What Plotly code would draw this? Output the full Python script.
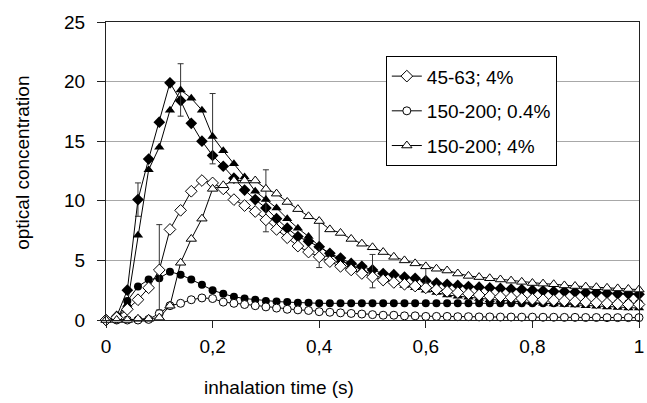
import plotly.graph_objects as go

# inhalation time (s), step 0.02
t = [round(0.02 * i, 2) for i in range(51)]

# hollow diamond: 45-63; 4%
hd = [0, 0.2, 0.9, 1.7, 2.7, 4.2, 7.6, 9.2, 10.8, 11.7, 11.5, 11.0, 10.1, 9.6, 9.1, 8.4,
      7.6, 6.9, 6.2, 5.7, 5.3, 4.9, 4.5, 4.2, 3.9, 3.6, 3.35, 3.15, 3.0, 2.85, 2.7,
      2.55, 2.4, 2.3, 2.2, 2.1, 2.0, 1.95, 1.9, 1.8, 1.75, 1.7, 1.65, 1.6, 1.55, 1.5,
      1.45, 1.4, 1.35, 1.3, 1.3]
# hollow circle: 150-200; 0.4%
hc = [0, 0, 0, 0, 0.05, 0.55, 1.2, 1.4, 1.7, 1.85, 1.8, 1.5, 1.4, 1.3, 1.2, 1.1,
      1.0, 0.9, 0.85, 0.8, 0.7, 0.65, 0.6, 0.55, 0.5, 0.45, 0.4, 0.4, 0.35, 0.35, 0.3,
      0.3, 0.3, 0.28, 0.28, 0.26, 0.26, 0.25, 0.25, 0.24, 0.24, 0.23, 0.23, 0.22, 0.22,
      0.21, 0.21, 0.2, 0.2, 0.2, 0.2]
# hollow triangle: 150-200; 4%
ht = [0, 0, 0, 0.1, 0.1, 0.2, 1.2, 4.8, 6.8, 8.5, 11.0, 11.3, 11.7, 11.7, 11.7, 11.0,
      10.6, 9.9, 9.3, 8.7, 8.3, 7.6, 7.3, 6.8, 6.4, 6.1, 5.7, 5.3, 5.0, 4.75, 4.5,
      4.3, 4.15, 3.9, 3.7, 3.6, 3.5, 3.4, 3.3, 3.2, 3.1, 3.05, 3.0, 2.9, 2.85, 2.8,
      2.75, 2.7, 2.65, 2.6, 2.55]
# filled diamond
fd = [0, 0.3, 2.5, 10.1, 13.5, 16.6, 19.9, 18.4, 16.5, 15.0, 13.8, 12.9, 11.9, 10.9, 10.1, 9.4,
      8.5, 7.7, 7.0, 6.6, 6.15, 5.6, 5.2, 4.75, 4.5, 4.2, 3.9, 3.8, 3.6, 3.5, 3.3,
      3.1, 3.0, 2.9, 2.8, 2.75, 2.7, 2.65, 2.6, 2.55, 2.5, 2.45, 2.4, 2.4, 2.35, 2.3,
      2.3, 2.25, 2.2, 2.2, 2.15]
# filled circle
fc = [0, 0.15, 1.6, 2.8, 3.4, 3.5, 4.05, 3.8, 3.4, 2.95, 2.5, 2.2, 1.95, 1.8, 1.7, 1.6,
      1.55, 1.5, 1.45, 1.45, 1.4, 1.4, 1.4, 1.4, 1.4, 1.4, 1.4, 1.4, 1.4, 1.4, 1.4,
      1.4, 1.4, 1.4, 1.4, 1.4, 1.4, 1.4, 1.4, 1.4, 1.4, 1.4, 1.4, 1.4, 1.4, 1.4,
      1.4, 1.4, 1.4, 1.4, 1.4]
# filled triangle
ft = [0, 0.1, 1.3, 7.1, 12.6, 14.5, 17.6, 19.3, 18.6, 17.6, 15.4, 14.2, 13.1, 12.0, 10.8, 10.1,
      9.4, 8.5, 7.7, 7.0, 6.2, 5.5, 5.0, 4.6, 4.2, 3.8, 3.5, 3.2, 2.9, 2.7, 2.5,
      2.3, 2.1, 2.0, 1.9, 1.8, 1.7, 1.65, 1.6, 1.5, 1.45, 1.4, 1.35, 1.3, 1.25, 1.2,
      1.15, 1.1, 1.05, 1.0, 1.0]

# error bars (plus / minus) at selected times
def sparse(d):
    return [d.get(i) for i in range(51)]

fd_err_p = sparse({3: 1.4})
fd_err_m = sparse({3: 1.4})
hd_err_p = sparse({5: 3.8})
hd_err_m = sparse({5: 3.35})
ft_err_p = sparse({7: 2.2, 10: 3.6, 15: 2.5, 20: 2.2, 25: 1.7})
ft_err_m = sparse({7: 2.2, 10: 2.3, 15: 2.7, 20: 1.8, 25: 1.1})
ht_err_p = sparse({30: 0.1})
ht_err_m = sparse({30: 1.4})

x_ticks = [0, 0.2, 0.4, 0.6, 0.8, 1]
x_tick_text = ["0", "0,2", "0,4", "0,6", "0,8", "1"]
y_ticks = [0, 5, 10, 15, 20, 25]

FONT = "Liberation Sans, Arial, sans-serif"
fig = go.Figure()

def err(p, m):
    return dict(type="data", array=p, arrayminus=m, symmetric=False,
                color="#333333", thickness=1, width=3, visible=True)

common = dict(x=t, mode="lines+markers", line=dict(color="black", width=1), cliponaxis=False)

fig.add_trace(go.Scatter(y=fc, name="fc", showlegend=False,
                         marker=dict(symbol="circle", size=8, color="black"), **common))
fig.add_trace(go.Scatter(y=fd, name="fd", showlegend=False, error_y=err(fd_err_p, fd_err_m),
                         marker=dict(symbol="diamond", size=9, color="black"), **common))
fig.add_trace(go.Scatter(y=ft, name="ft", showlegend=False, error_y=err(ft_err_p, ft_err_m),
                         marker=dict(symbol="triangle-up", size=9, color="black"), **common))
fig.add_trace(go.Scatter(y=hc, name="150-200; 0.4%", legendrank=2, legendgroup="b",
                         marker=dict(symbol="circle", size=8, color="white",
                                     line=dict(color="black", width=1)), **common))
fig.add_trace(go.Scatter(y=hd, name="45-63; 4%", legendrank=1, legendgroup="a",
                         error_y=err(hd_err_p, hd_err_m),
                         marker=dict(symbol="diamond", size=9, color="white",
                                     line=dict(color="black", width=1)), **common))
fig.add_trace(go.Scatter(y=ht, name="150-200; 4%", legendrank=3, legendgroup="c",
                         error_y=err(ht_err_p, ht_err_m),
                         marker=dict(symbol="triangle-up", size=9, color="white",
                                     line=dict(color="black", width=1)), **common))

fig.update_layout(
    width=647, height=403,
    margin=dict(l=106, r=3, t=22, b=83),
    paper_bgcolor="white", plot_bgcolor="white",
    font=dict(family=FONT, size=19, color="black"),
    xaxis=dict(range=[0, 1], tickvals=x_ticks, ticktext=x_tick_text,
               showgrid=False, zeroline=False, showline=True, linecolor="#222222",
               linewidth=1, mirror=True, ticks="outside", ticklen=7, tickcolor="#222222",
               ticklabelstandoff=2, ticklabeloverflow="allow"),
    yaxis=dict(range=[0, 25], tickvals=y_ticks, showgrid=True, gridcolor="#a8a8a8",
               gridwidth=1, zeroline=False, showline=True, linecolor="#222222",
               linewidth=1, mirror=True, ticks="outside", ticklen=8, tickcolor="#222222",
               ticklabelstandoff=8, ticklabeloverflow="allow"),
    legend=dict(x=0.525, y=0.885, xanchor="left", yanchor="top",
                bgcolor="white", bordercolor="black", borderwidth=1,
                traceorder="grouped", tracegroupgap=7,
                font=dict(family=FONT, size=19)),
    showlegend=True,
    annotations=[
        dict(text="optical concentration", xref="paper", yref="paper",
             x=-0.156, y=0.527, xanchor="center", yanchor="middle",
             textangle=-90, showarrow=False, font=dict(family=FONT, size=19)),
        dict(text="inhalation time (s)", xref="paper", yref="paper",
             x=0.324, y=-0.228, xanchor="center", yanchor="middle",
             showarrow=False, font=dict(family=FONT, size=19)),
    ],
)

fig.write_html("out.html", config={"displayModeBar": False},
               post_script="document.body.style.margin='0px';")
